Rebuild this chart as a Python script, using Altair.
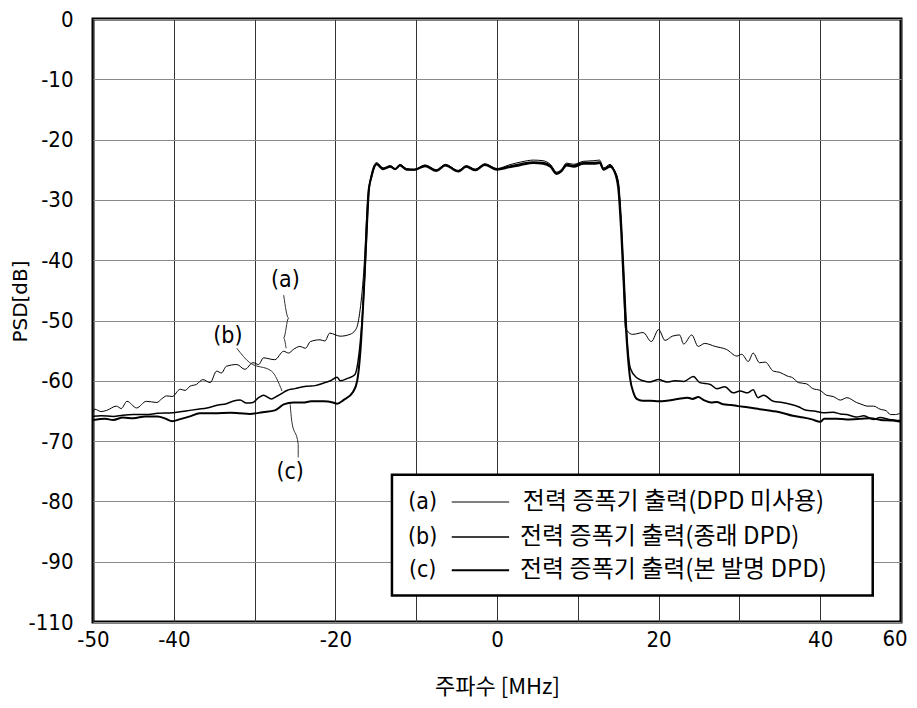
import altair as alt
import pandas as pd

# ---------------- data ----------------
# (a) power amplifier output without DPD
a_f = [-50, -49.8, -49, -48.3, -47.1, -46.5, -45.8, -44.6, -43.4, -42.1, -41.5, -40.9, -40.2, -39.2,
       -38.6, -38.0, -37.2, -36.4, -35.5, -34.7, -34.1, -33.5, -32.2, -31.2, -30.2, -29.5, -28.9,
       -27.5, -26.4, -25.8, -25.2, -24.4, -23.7, -23.1, -21.9, -21.3, -20.7, -19.4, -18.2, -17.4,
       -17.0, -16.5, -16.0, -15.6,
       -14.9, -14.1, -13.2, -12.6, -12.0, -11.2, -10.2, -8.9, -7.5, -6.4, -4.8, -3.8, -2.7, -1.5,
       0.0, 1.5, 3.0, 4.5, 5.7, 6.6, 7.4, 8.0, 8.6, 9.5, 10.7, 12.0, 12.7, 13.2, 14.0, 14.5,
       15.0, 15.4, 15.7, 15.9, 16.8, 18.1, 19.1, 20.0, 20.8, 21.7, 22.6, 23.1, 24.1, 24.9, 25.7,
       27.0, 28.4, 29.7, 30.3, 31.1, 31.7, 32.5, 33.2, 34.2, 35.0, 35.9, 36.6, 37.3, 38.3, 39.1,
       40.0, 40.8, 41.6, 42.5, 43.3, 44.5, 45.3, 45.8, 46.6, 47.4, 48.2, 48.7, 49.3, 50]
a_psd = [-65.3, -64.7, -65.1, -64.9, -64.2, -64.6, -63.4, -64.5, -63.4, -63.6, -63.0, -62.5, -62.6,
         -61.4, -61.6, -60.9, -60.6, -59.8, -60.3, -58.4, -58.7, -57.6, -57.3, -58.1, -57.0, -57.3,
         -56.2, -56.5, -55.1, -55.4, -54.8, -54.3, -54.6, -53.5, -53.2, -53.4, -52.1, -52.6, -52.3,
         -51.3, -48.8, -42.0, -30.0, -26.0,
         -23.8, -24.7, -24.3, -24.8, -24.1, -24.8, -24.9, -24.2, -25.0, -24.1, -25.1, -24.3, -24.9,
         -24.0, -24.8, -24.2, -23.7, -23.4, -23.5, -24.1, -25.4, -24.9, -23.9, -24.1, -23.6, -23.5,
         -23.4, -24.7, -24.1, -25.0,
         -27.0, -35.0, -45.0, -51.3, -52.3, -52.0, -53.5, -51.5, -53.3, -52.6, -52.4, -53.9, -52.4,
         -54.3, -53.8, -54.3, -54.8, -55.9, -55.6, -56.8, -55.4, -57.0, -56.9, -58.4, -58.6, -59.2,
         -59.5, -60.3, -60.5, -61.3, -61.6, -62.4, -62.6, -63.2, -62.8, -63.6, -64.0, -64.2, -64.2,
         -64.7, -65.0, -65.6, -65.6, -65.3]

# (b) power amplifier output, conventional DPD
b_f = [-50, -49, -47.5, -46.3, -45, -43.5, -42, -40.1, -38.5, -37, -35.9, -34.5, -33.5, -32.7, -31.8,
       -31, -30.2, -29.5, -28.9, -27.9, -27.3, -26.5, -26, -25, -23.6, -22.5, -21.5, -20.6, -19.8,
       -19.4, -18.5, -17.6, -17.2, -16.7, -16.2, -15.8, -15.5,
       -14.9, -14.1, -13.2, -12.6, -12.0, -11.2, -10.2, -8.9, -7.5, -6.4, -4.8, -3.8, -2.7, -1.5,
       0.0, 1.5, 3.0, 4.5, 5.7, 6.6, 7.4, 8.0, 8.6, 9.5, 10.7, 12.0, 12.7, 13.2, 14.0, 14.5,
       15.0, 15.4, 15.8, 16.1, 16.5, 17.3, 18.1, 18.9, 20.0, 21.0, 22.0, 23.1, 24.3, 25.1, 26.4,
       27.2, 28.2, 29.2, 30.1, 31.0, 31.7, 32.3, 33.0, 34.2, 35.3, 36.3, 37.3, 38.3, 39.2, 40.4,
       41.6, 42.5, 43.3, 44.5, 45.4, 46.6, 47.4, 48.5, 50]
b_psd = [-65.9, -65.8, -65.9, -65.7, -65.6, -65.6, -65.4, -65.3, -65.0, -64.7, -64.5, -64.0, -63.8,
         -63.4, -63.2, -63.7, -63.6, -62.8, -62.4, -63.0, -62.6, -62.0, -61.6, -61.3, -60.9, -60.8,
         -60.4, -60.0, -59.4, -60.0, -59.6, -59.0, -56.8, -50.0, -38.0, -28.0, -26.0,
         -24.0, -24.8, -24.4, -24.9, -24.2, -24.9, -25.0, -24.3, -25.1, -24.2, -25.2, -24.4, -25.0,
         -24.1, -24.9, -24.4, -24.0, -23.7, -23.8, -24.3, -25.6, -25.1, -24.1, -24.3, -23.8, -23.8,
         -23.7, -24.9, -24.3, -25.1,
         -27.0, -34.0, -45.0, -53.0, -57.9, -59.5, -60.0, -60.2, -59.8, -60.2, -60.0, -60.1, -59.3,
         -60.3, -60.6, -61.3, -61.0, -62.0, -61.7, -62.0, -61.5, -62.8, -62.4, -63.4, -63.6, -63.9,
         -64.3, -64.9, -65.0, -65.3, -65.2, -65.5, -65.6, -66.0, -65.8, -66.4, -66.1, -66.4, -66.6]

# (c) power amplifier output, proposed DPD
c_f = [-50, -48.5, -47.5, -46.3, -45, -43.5, -42, -41, -40.2, -39.3, -38, -36.8, -35, -33, -31.8,
       -30.6, -29, -27.5, -26.9, -26.4, -25.2, -24.0, -23.0, -21.5, -20.3, -19.8, -19.0, -17.8,
       -17.3, -16.9, -16.4, -15.9, -15.6,
       -14.9, -14.1, -13.2, -12.6, -12.0, -11.2, -10.2, -8.9, -7.5, -6.4, -4.8, -3.8, -2.7, -1.5,
       0.0, 1.5, 3.0, 4.5, 5.7, 6.6, 7.4, 8.0, 8.6, 9.5, 10.7, 12.0, 12.7, 13.2, 14.0, 14.5,
       15.0, 15.4, 15.84, 16.2, 16.46, 16.9, 17.3, 18, 19, 20, 21, 22, 23, 23.6, 24.2, 24.9, 25.6,
       26.5, 27.2, 28, 29, 29.8, 31, 32.5, 34, 35, 36.6, 37.5, 39, 40, 40.5, 42, 43.3, 45, 46.2,
       47.5, 49, 50]
c_psd = [-66.5, -66.3, -66.5, -66.1, -66.2, -65.9, -65.9, -66.3, -66.7, -66.4, -65.9, -65.4, -65.4,
         -65.3, -65.4, -65.5, -65.2, -64.9, -64.4, -63.9, -63.6, -63.6, -63.4, -63.4, -63.6, -63.8,
         -63.2, -61.8, -60.0, -55.0, -43.0, -28.5, -26.5,
         -24.1, -24.9, -24.5, -24.9, -24.3, -25.0, -25.0, -24.4, -25.2, -24.3, -25.3, -24.5, -25.1,
         -24.2, -25.0, -24.6, -24.2, -23.9, -24.0, -24.5, -25.7, -25.2, -24.3, -24.5, -24.0, -24.0,
         -23.9, -25.0, -24.5, -25.2,
         -28.0, -36.0, -48.5, -56.0, -59.5, -62.0, -63.0, -63.3, -63.3, -63.4, -63.3, -63.1, -62.9,
         -62.8, -63.0, -62.7, -63.2, -63.6, -63.5, -63.9, -64.0, -64.2, -64.4, -64.7, -65.0, -65.2,
         -65.8, -66.0, -66.4, -66.8, -66.3, -66.3, -66.4, -66.3, -66.2, -66.5, -66.6, -66.8]

series_ids = ["a", "b", "c"]
legend_texts = ["전력 증폭기 출력(DPD 미사용)", "전력 증폭기 출력(종래 DPD)", "전력 증폭기 출력(본 발명 DPD)"]
legend_tags = ["(a)", "(b)", "(c)"]

x_ticks = [-50, -40, -30, -20, -10, 0, 10, 20, 30, 40, 50]
y_ticks = [-100, -90, -80, -70, -60, -50, -40, -30, -20, -10, 0]
last_x_label = ["60"]          # printed at the right end of the frequency axis
last_x_pos = [50]
bottom_psd = [-100]

# callout leader lines (a), (b), (c) and their label anchors
lead_a_f = [-26.4, -25.8, -26.4, -26.1]
lead_a_p = [-45.8, -49.6, -52.9, -54.6]
lead_b_f = [-32.2, -30.6, -27.9, -26.6]
lead_b_p = [-54.6, -57.0, -58.4, -61.7]
lead_c_f = [-25.6, -25.4, -24.6, -24.6]
lead_c_p = [-63.9, -66.7, -70.5, -72.7]
tag_f = [-26.2, -33.3, -25.6]
tag_p = [-43.3, -52.6, -75.2]

# legend box placement (data units)
box_f = [-13.0, 46.5]
box_p = [-75.6, -95.6]
row_p = [-80.1, -85.9, -91.4]
tag_col = -9.2
sample_f = [-5.6, 1.5]
text_col = [3.2, 2.85, 2.85]

# ---------------- build tables ----------------
rows = []
for s, fs, ps in (("a", a_f, a_psd), ("b", b_f, b_psd), ("c", c_f, c_psd)):
    for i, (f, p) in enumerate(zip(fs, ps)):
        rows.append({"series": s, "f": f, "psd": p, "i": i})
df = pd.DataFrame(rows)

lrows = []
for s, fs, ps in (("a", lead_a_f, lead_a_p), ("b", lead_b_f, lead_b_p), ("c", lead_c_f, lead_c_p)):
    for i, (f, p) in enumerate(zip(fs, ps)):
        lrows.append({"lead": s, "f": f, "psd": p, "i": i})
lead_df = pd.DataFrame(lrows)

tag_df = pd.DataFrame({"f": tag_f, "psd": tag_p, "t": legend_tags})
box_df = pd.DataFrame({"f": [box_f[0]], "f2": [box_f[1]], "psd": [box_p[0]], "psd2": [box_p[1]]})
leg_df = pd.DataFrame({
    "series": series_ids, "psd": row_p, "tag": legend_tags, "txt": legend_texts,
    "tagx": [tag_col] * 3, "s1": [sample_f[0]] * 3, "s2": [sample_f[1]] * 3, "tx": text_col,
})
end_df = pd.DataFrame({"f": last_x_pos, "psd": bottom_psd, "t": last_x_label})

NUM_FONT = "DejaVu Sans Condensed, DejaVu Sans"
KR_FONT = "Noto Sans CJK KR"

xscale = alt.Scale(domain=[-50, 50], nice=False, zero=False)
yscale = alt.Scale(domain=[-100, 0], nice=False, zero=False)
sw = alt.StrokeWidth("series:N", scale=alt.Scale(domain=series_ids, range=[1.0, 2.0, 3.2]), legend=None)

x_axis = alt.Axis(
    values=x_ticks,
    labelExpr="(datum.value % 20 == 0 || datum.value == -50) && datum.value != 50 ? '' + datum.value : ''",
    grid=True, gridColor="#333333", gridWidth=1, ticks=False, domain=False,
    labelFont=NUM_FONT, labelFontSize=22, labelColor="black", labelPadding=7,
    labelFlush=False, labelOverlap=False,
    title="주파수 [MHz]", titleFont=KR_FONT, titleFontSize=22, titleFontWeight="normal",
    titleColor="black", titleY=64, titleBaseline="middle",
)
y_axis = alt.Axis(
    values=y_ticks,
    labelExpr="datum.value == -100 ? '-110' : '' + datum.value",
    grid=True, gridColor="#8a8a8a", gridWidth=1, ticks=False, domain=False,
    labelFont=NUM_FONT, labelFontSize=22, labelColor="black", labelPadding=20,
    labelFlush=False, labelOverlap=False,
    title="PSD[dB]", titleFont="DejaVu Sans", titleFontSize=20, titleFontWeight="normal",
    titleColor="black", titleX=-73, titleY=282, titleBaseline="middle", titleAngle=-90,
)

lines = alt.Chart(df).mark_line(color="black", clip=True, strokeJoin="round",
                                interpolate="monotone").encode(
    x=alt.X("f:Q", scale=xscale, axis=x_axis),
    y=alt.Y("psd:Q", scale=yscale, axis=y_axis),
    strokeWidth=sw,
    detail="series:N",
    order="i:Q",
)

end_label = alt.Chart(end_df).mark_text(font=NUM_FONT, fontSize=22, color="black",
                                        align="center", baseline="top", dx=-6, dy=7).encode(
    x="f:Q", y="psd:Q", text="t:N"
)

leaders = alt.Chart(lead_df).mark_line(color="#333333", strokeWidth=1, interpolate="monotone").encode(
    x="f:Q", y="psd:Q", detail="lead:N", order="i:Q"
)

tags = alt.Chart(tag_df).mark_text(font=NUM_FONT, fontSize=23, color="black",
                                   align="center", baseline="middle").encode(
    x="f:Q", y="psd:Q", text="t:N"
)

box = alt.Chart(box_df).mark_rect(fill="white", stroke="black", strokeWidth=2.5).encode(
    x="f:Q", x2="f2:Q", y="psd:Q", y2="psd2:Q"
)

leg_tags = alt.Chart(leg_df).mark_text(font=NUM_FONT, fontSize=23, color="black",
                                       align="center", baseline="middle").encode(
    x="tagx:Q", y="psd:Q", text="tag:N"
)
leg_lines = alt.Chart(leg_df).mark_rule(color="black").encode(
    x="s1:Q", x2="s2:Q", y="psd:Q", strokeWidth=sw
)
leg_text = alt.Chart(leg_df).mark_text(font=KR_FONT, fontSize=24, color="black",
                                       align="left", baseline="middle").encode(
    x="tx:Q", y="psd:Q", text="txt:N"
)

chart = alt.layer(lines, leaders, tags, end_label, box, leg_tags, leg_lines, leg_text).properties(
    width=808, height=603,
    autosize=alt.AutoSizeParams(type="none"),
    padding={"left": 85, "top": 11, "right": 8, "bottom": 78},
    background="white",
).configure_view(stroke="black", strokeWidth=3)

chart.save("out.html", embed_options={"renderer": "svg", "actions": False})
